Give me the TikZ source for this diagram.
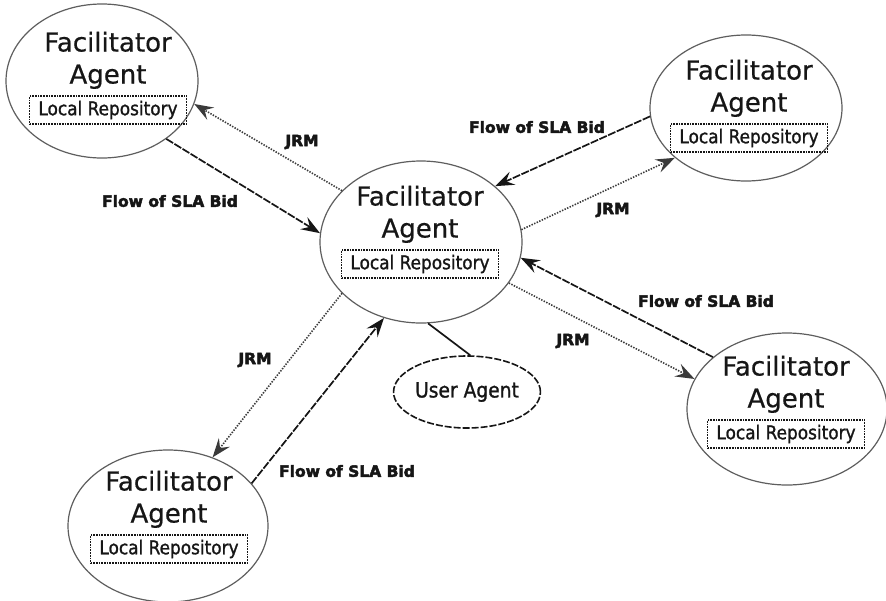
\documentclass[tikz,border=0pt]{standalone}
\usepackage{fontspec}
\setmainfont{DejaVu Sans}
\newfontfamily\repofont{DejaVu Sans}[FakeStretch=0.89, FakeBold=1.2]
\newfontfamily\namefont{DejaVu Sans}[FakeBold=0.6]
\newfontfamily\lblfont{DejaVu Sans Bold}[FakeBold=3]
\usetikzlibrary{shapes.geometric,arrows.meta}

\definecolor{ink}{HTML}{161616}
\definecolor{rim}{HTML}{5E5E5E}
\definecolor{dots}{HTML}{3A3A3A}

\tikzset{
  agentshape/.style={ellipse, draw=rim, line width=1.2pt, inner sep=0pt, fill=white},
  factext/.style={inner sep=0pt, text=ink, font=\namefont\fontsize{26}{30}\selectfont},
  repobox/.style={draw=ink, densely dotted, line width=1.7pt, inner sep=0pt,
    minimum width=157, minimum height=28, text=ink,
    font=\repofont\fontsize{19}{22}\selectfont},
  useragent/.style={ellipse, draw=ink, line width=1.6pt, dash pattern=on 7pt off 2pt,
    inner sep=0pt, minimum width=138, minimum height=72, text=ink,
    font=\repofont\fontsize{21}{24}\selectfont},
  lbl/.style={inner sep=0pt, text=ink, font=\lblfont\fontsize{15.5}{19}\selectfont},
  tipstyle/.style={-{Stealth[length=19pt, width=14pt, inset=7pt]}},
  bidflow/.style={tipstyle, draw=ink, line width=1.7pt, dash pattern=on 8pt off 1.5pt},
  jrmflow/.style={tipstyle, draw=dots, line width=1.6pt, dash pattern=on 1.4pt off 1.4pt},
  link/.style={draw=ink, line width=1.7pt},
}

% name, centre x, centre y, half width, half height, text centre x, text centre y
\newcommand{\facilitator}[7]{%
  \node[agentshape, minimum width=2*#4, minimum height=2*#5] (#1) at (#2,#3) {};
  \node[factext, anchor=base] (#1-name) at (#6,#7-26.5) {Facilitator};
  \node[factext, anchor=base] (#1-role) at (#6,#7+5.5) {Agent};
  \node[repobox] (#1-repo) at (#6,#7+32) {Local Repository};
}

\begin{document}
\begin{tikzpicture}[x=1pt, y=-1pt]
  \useasboundingbox[fill=white] (0,0) rectangle (886,600);

  % agents
  \facilitator{tl}{102}{81}{96}{77}{108}{78}
  \facilitator{hub}{421}{242}{101}{81}{420}{232}
  \facilitator{tr}{746}{108}{96}{73}{749}{106}
  \facilitator{br}{787}{409}{100}{76}{786}{402}
  \facilitator{bl}{168}{526}{100}{76}{169}{517}
  \node[useragent] (user) at (467,392) {User Agent};

  % connections
  \draw[jrmflow] (hub.147) -- (tl.-14);
  \draw[bidflow] (tl.-42) -- (hub.175);
  \draw[bidflow] (tr.185) -- (hub.37);
  \draw[jrmflow] (hub.7) -- (tr.215);
  \draw[bidflow] (br.145) -- (hub.-9);
  \draw[jrmflow] (hub.-25) -- (br.162);
  \draw[jrmflow] (hub.213) -- (bl.57);
  \draw[bidflow] (bl.27) -- (hub.244);
  \draw[link] (hub.-85) -- (user.85);

  % labels
  \node[lbl] (l1) at (302,142) {JRM};
  \node[lbl] (l2) at (170,201) {Flow of SLA Bid};
  \node[lbl] (l3) at (537,127) {Flow of SLA Bid};
  \node[lbl] (l4) at (613,210) {JRM};
  \node[lbl] (l5) at (706,301) {Flow of SLA Bid};
  \node[lbl] (l6) at (573,341) {JRM};
  \node[lbl] (l7) at (255,360) {JRM};
  \node[lbl] (l8) at (347,471) {Flow of SLA Bid};
\end{tikzpicture}
\end{document}
